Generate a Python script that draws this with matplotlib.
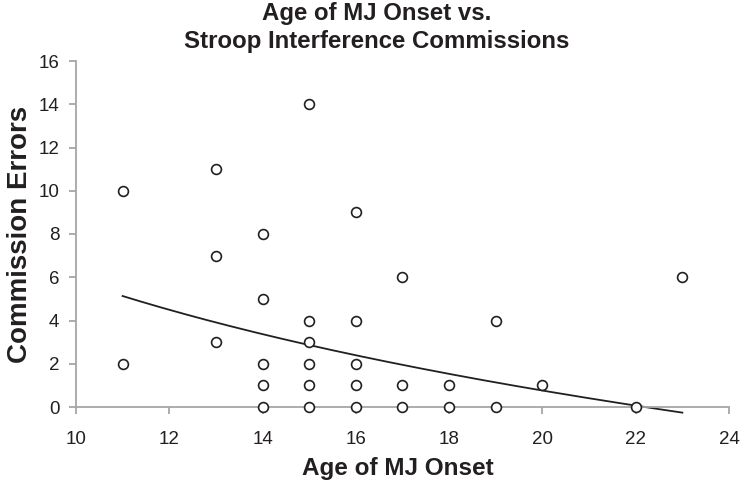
import numpy as np
import matplotlib.pyplot as plt

# data
age_onset = [11, 11, 13, 13, 13, 14, 14, 14, 14, 14,
             15, 15, 15, 15, 15, 15, 16, 16, 16, 16, 16,
             17, 17, 17, 18, 18, 19, 19, 20, 22, 23]
commissions = [10, 2, 11, 7, 3, 8, 5, 2, 1, 0,
               14, 4, 3, 2, 1, 0, 9, 4, 2, 1, 0,
               6, 1, 0, 1, 0, 4, 0, 1, 0, 6]

# logarithmic trendline y = a*ln(x) + b
# (overlapping points hide some of the data, so it is not refitted here)
trend_a = -7.31
trend_b = 22.66

plt.rcParams['font.family'] = ['Liberation Sans', 'DejaVu Sans']
dark = '#231f20'
grey = '#a6a6a6'

fig = plt.figure(figsize=(7.48, 4.87), dpi=100)
ax = fig.add_axes([76 / 748, 1 - 407 / 487, (729 - 76) / 748, (407 - 61) / 487])

ax.scatter(age_onset, commissions, s=50, facecolors='white', edgecolors=dark,
           linewidths=1.2, zorder=3, clip_on=False)

xs = np.linspace(min(age_onset), max(age_onset), 200)
ax.plot(xs, trend_a * np.log(xs) + trend_b, color=dark, lw=1.3, clip_on=False, zorder=2)

ax.set_xlim(10, 24)
ax.set_ylim(0, 16)
ax.set_xticks(range(10, 25, 2))
ax.set_yticks(range(0, 17, 2))
for s in ['top', 'right']:
    ax.spines[s].set_visible(False)
for s in ['left', 'bottom']:
    ax.spines[s].set_color(grey)
    ax.spines[s].set_linewidth(1.3)
ax.tick_params(colors=grey, labelcolor=dark, labelsize=13.5, length=5, width=1.3)
ax.tick_params(axis='x', pad=12)
ax.tick_params(axis='y', pad=7)

ax.set_xlabel('Age of MJ Onset', fontsize=17.5, fontweight='bold', color=dark, va='top')
ax.xaxis.set_label_coords(0.493, -0.145)
ax.set_ylabel('Commission Errors', fontsize=20, fontweight='bold', color=dark)
ax.yaxis.set_label_coords(-0.0665, 0.5)
fig.text(0.503, 0.996, 'Age of MJ Onset vs.\nStroop Interference Commissions', ha='center', va='top',
         fontsize=17.3, fontweight='bold', color=dark, linespacing=1.28)

fig.savefig('out.png', dpi=100)
